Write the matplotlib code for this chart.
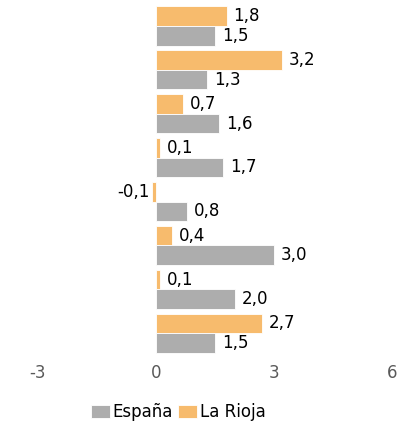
import matplotlib.pyplot as plt
import numpy as np

plt.rcParams['font.family'] = ['DejaVu Sans']

# values per group (top to bottom)
rioja = [1.8, 3.2, 0.7, 0.1, -0.1, 0.4, 0.1, 2.7]
espana = [1.5, 1.3, 1.6, 1.7, 0.8, 3.0, 2.0, 1.5]
xticks = [-3, 0, 3, 6]

c_rioja = '#F7BB6D'
c_espana = '#ADADAD'

fig = plt.figure(figsize=(4.12, 4.24), dpi=100)
ax = fig.add_axes([0.092, 0.162, 0.859, 0.829])

pos = np.arange(len(rioja))
h = 0.45
b1 = ax.barh(pos - h / 2, rioja, height=h, color=c_rioja, edgecolor='white', linewidth=0.6, label='La Rioja')
b2 = ax.barh(pos + h / 2, espana, height=h, color=c_espana, edgecolor='white', linewidth=0.6, label='España')

def fmt(v):
    return f"{v:.1f}".replace('.', ',')

for bars, vals in [(b1, rioja), (b2, espana)]:
    for bar, v in zip(bars, vals):
        y = bar.get_y() + bar.get_height() / 2
        if v >= 0:
            ax.annotate(fmt(v), (v, y), xytext=(5, 0), textcoords='offset points',
                        ha='left', va='center', fontsize=12, color='black')
        else:
            ax.annotate(fmt(v), (v, y), xytext=(-2, 0), textcoords='offset points',
                        ha='right', va='center', fontsize=12, color='black')

ax.set_xlim(-3, 6)
ax.set_ylim(len(rioja) - 0.5, -0.5)
ax.set_xticks(xticks)
ax.set_xticklabels([str(t) for t in xticks])
ax.set_yticks([])
ax.tick_params(axis='x', length=0, pad=6, labelsize=12, labelcolor='#595959')
for s in ax.spines.values():
    s.set_visible(False)

fig.legend(handles=[b2, b1], labels=['España', 'La Rioja'], loc='center',
           bbox_to_anchor=(0.433, 0.028), ncol=2, frameon=False, fontsize=12,
           handlelength=1.15, handleheight=0.8, handletextpad=0.15, columnspacing=0.3)

fig.savefig('out.png', dpi=100)
